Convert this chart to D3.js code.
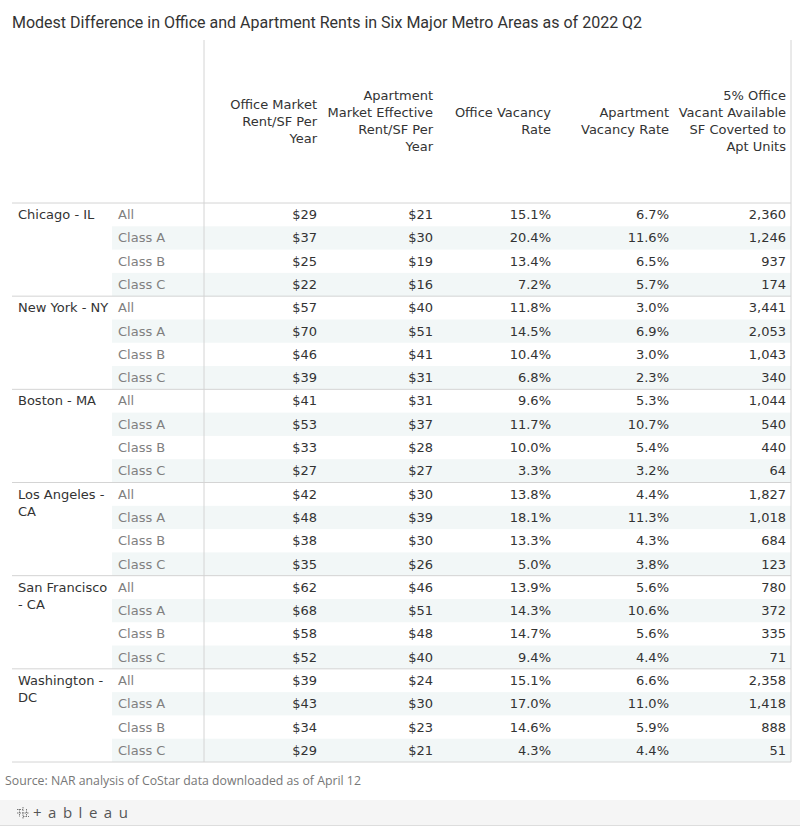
<!DOCTYPE html>
<html>
<head>
<meta charset="utf-8">
<script src="https://cdn.jsdelivr.net/npm/d3@7"></script>
<style>
  body { margin: 0; background: #fff; }
  svg { display: block; }
</style>
</head>
<body>
<div id="chart"></div>
<script>
// table data
var metros = ["Chicago - IL", "New York - NY", "Boston - MA", "Los Angeles - CA", "San Francisco - CA", "Washington - DC"];
var metroLines = [["Chicago - IL"], ["New York - NY"], ["Boston - MA"], ["Los Angeles -", "CA"], ["San Francisco", "- CA"], ["Washington -", "DC"]];
var classes = ["All", "Class A", "Class B", "Class C"];
var headers = [
    ["Office Market", "Rent/SF Per", "Year"],
    ["Apartment", "Market Effective", "Rent/SF Per", "Year"],
    ["Office Vacancy", "Rate"],
    ["Apartment", "Vacancy Rate"],
    ["5% Office", "Vacant Available", "SF Coverted to", "Apt Units"]
];

// one array per column, 4 classes per metro in order
var officeRent = [29, 37, 25, 22, 57, 70, 46, 39, 41, 53, 33, 27, 42, 48, 38, 35, 62, 68, 58, 52, 39, 43, 34, 29];
var aptRent    = [21, 30, 19, 16, 40, 51, 41, 31, 31, 37, 28, 27, 30, 39, 30, 26, 46, 51, 48, 40, 24, 30, 23, 21];
var officeVac  = [15.1, 20.4, 13.4, 7.2, 11.8, 14.5, 10.4, 6.8, 9.6, 11.7, 10.0, 3.3, 13.8, 18.1, 13.3, 5.0, 13.9, 14.3, 14.7, 9.4, 15.1, 17.0, 14.6, 4.3];
var aptVac     = [6.7, 11.6, 6.5, 5.7, 3.0, 6.9, 3.0, 2.3, 5.3, 10.7, 5.4, 3.2, 4.4, 11.3, 4.3, 3.8, 5.6, 10.6, 5.6, 4.4, 6.6, 11.0, 5.9, 4.4];
var aptUnits   = [2360, 1246, 937, 174, 3441, 2053, 1043, 340, 1044, 540, 440, 64, 1827, 1018, 684, 123, 780, 372, 335, 71, 2358, 1418, 888, 51];

var width = 800, height = 827;
var svg = d3.select("#chart").append("svg").attr("width", width).attr("height", height);

var cellFont = "'DejaVu Sans', sans-serif", cellSize = "13px";
var lineCol = "#d4d4d4";

// rows: one band per metro/class pair
var rows = [];
metros.forEach(function(m, i) {
    classes.forEach(function(c, j) { rows.push({metro: i, cls: j, idx: i * 4 + j}); });
});
var y = d3.scaleBand().domain(d3.range(rows.length)).range([203, 762]);

// column right edges
var cols = d3.scaleOrdinal().domain(d3.range(5)).range([317, 433, 551, 669, 786]);

var fmtMoney = function(v) { return "$" + v; };
var fmtPct = function(v) { return d3.format(".1f")(v) + "%"; };
var fmtNum = d3.format(",");
var columns = [
    {vals: officeRent, fmt: fmtMoney},
    {vals: aptRent, fmt: fmtMoney},
    {vals: officeVac, fmt: fmtPct},
    {vals: aptVac, fmt: fmtPct},
    {vals: aptUnits, fmt: fmtNum}
];

// title
svg.append("text").attr("x", 12).attr("y", 28)
    .style("font-family", "Roboto, sans-serif").style("font-size", "16px").style("fill", "#333")
    .text("Modest Difference in Office and Apartment Rents in Six Major Metro Areas as of 2022 Q2");

// banding on class A / class C rows
svg.selectAll("rect.band").data(rows.filter(function(r) { return r.cls % 2 == 1; }))
    .enter().append("rect").attr("class", "band")
    .attr("x", 112).attr("width", 791 - 112)
    .attr("y", function(r) { return y(r.idx); }).attr("height", y.bandwidth())
    .style("fill", "#f2f7f7");

// headers
headers.forEach(function(h, k) {
    var lh = 17, top = 121 - (h.length - 1) * lh / 2;
    var t = svg.append("text").attr("text-anchor", "end")
        .style("font-family", cellFont).style("font-size", cellSize).style("fill", "#333");
    h.forEach(function(line, i) {
        t.append("tspan").attr("x", cols(k)).attr("y", top + i * lh + 4.5).text(line);
    });
});

// grid lines
svg.append("line").attr("x1", 204).attr("x2", 204).attr("y1", 40).attr("y2", 762).style("stroke", lineCol);
svg.append("line").attr("x1", 791).attr("x2", 791).attr("y1", 40).attr("y2", 762).style("stroke", lineCol);
d3.range(metros.length + 1).forEach(function(i) {
    var yy = i < metros.length ? y(i * 4) : y.range()[1];
    svg.append("line").attr("x1", 12).attr("x2", 791).attr("y1", yy).attr("y2", yy).style("stroke", lineCol);
});

// metro labels
metroLines.forEach(function(lines, i) {
    var t = svg.append("text").style("font-family", cellFont).style("font-size", cellSize).style("fill", "#333");
    lines.forEach(function(l, k) {
        t.append("tspan").attr("x", 18).attr("y", y(i * 4) + y.bandwidth() / 2 + 4.5 + k * 17).text(l);
    });
});

// class labels
svg.selectAll("text.cls").data(rows).enter().append("text").attr("class", "cls")
    .attr("x", 118).attr("y", function(r) { return y(r.idx) + y.bandwidth() / 2 + 4.5; })
    .style("font-family", cellFont).style("font-size", cellSize).style("fill", "#808080")
    .text(function(r) { return classes[r.cls]; });

// values
columns.forEach(function(c, k) {
    svg.selectAll("text.v" + k).data(rows).enter().append("text").attr("class", "v" + k)
        .attr("x", cols(k)).attr("y", function(r) { return y(r.idx) + y.bandwidth() / 2 + 4.5; })
        .attr("text-anchor", "end")
        .style("font-family", cellFont).style("font-size", cellSize).style("fill", "#333")
        .text(function(r) { return c.fmt(c.vals[r.idx]); });
});

// source note
svg.append("text").attr("x", 5).attr("y", 785)
    .style("font-family", "'Open Sans', sans-serif").style("font-size", "12.3px").style("fill", "#777")
    .text("Source: NAR analysis of CoStar data downloaded as of April 12");

// tableau footer bar
svg.append("rect").attr("x", 0).attr("y", 800).attr("width", width).attr("height", 25).style("fill", "#f5f5f5");
svg.append("line").attr("x1", 0).attr("x2", width).attr("y1", 825.5).attr("y2", 825.5).style("stroke", "#ddd");
var logo = svg.append("g").attr("transform", "translate(23,813)").style("stroke", "#777").style("stroke-width", 1);
[[-6, 0, 6, 0], [0, -6, 0, 6], [-3.5, -4, -3.5, 4], [3.5, -4, 3.5, 4], [-6, -3.5, 0, -3.5], [0, 3.5, 6, 3.5]].forEach(function(s) {
    logo.append("line").attr("x1", s[0]).attr("y1", s[1]).attr("x2", s[2]).attr("y2", s[3]).style("stroke-dasharray", "1.5,1");
});
svg.append("text").attr("x", 33).attr("y", 818)
    .style("font-family", "'Open Sans', sans-serif").style("font-size", "15px").style("fill", "#555")
    .style("letter-spacing", "6.5px")
    .text("+ableau");
</script>
</body>
</html>
